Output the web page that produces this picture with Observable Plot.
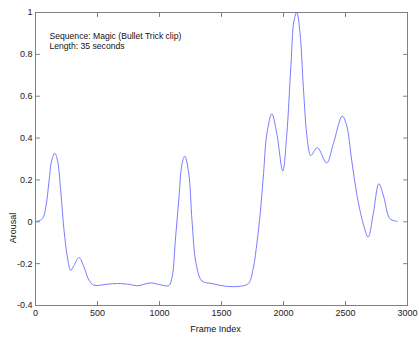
<!DOCTYPE html>
<html>
<head>
<meta charset="utf-8">
<script src="https://cdn.jsdelivr.net/npm/d3@7"></script>
<script src="https://cdn.jsdelivr.net/npm/@observablehq/plot@0.6"></script>
<style>
  html, body { margin: 0; padding: 0; background: #fff; }
  #chart { position: relative; width: 419px; height: 337px; }
</style>
</head>
<body>
<div id="chart"></div>
<script>
const frames = [0, 56, 83, 110, 128, 155, 177, 203, 230, 257, 284, 311, 351, 391, 431, 472, 579, 660, 766, 820, 927, 1000, 1075, 1102, 1128, 1155, 1182, 1204, 1236, 1262, 1295, 1343, 1424, 1531, 1651, 1718, 1758, 1785, 1812, 1839, 1866, 1906, 1946, 1994, 2027, 2059, 2085, 2107, 2134, 2160, 2193, 2220, 2273, 2348, 2402, 2474, 2509, 2550, 2590, 2643, 2683, 2724, 2769, 2809, 2858, 2917];
const arousal = [0.0, 0.015, 0.07, 0.198, 0.285, 0.328, 0.294, 0.15, -0.04, -0.168, -0.232, -0.208, -0.171, -0.216, -0.279, -0.303, -0.298, -0.295, -0.30, -0.306, -0.292, -0.300, -0.305, -0.263, -0.088, 0.103, 0.278, 0.314, 0.23, 0.007, -0.2, -0.283, -0.295, -0.308, -0.308, -0.295, -0.216, -0.104, 0.039, 0.23, 0.421, 0.516, 0.421, 0.243, 0.421, 0.739, 0.962, 1.0, 0.898, 0.643, 0.389, 0.317, 0.354, 0.281, 0.373, 0.505, 0.461, 0.294, 0.135, -0.009, -0.073, 0.039, 0.182, 0.118, 0.015, 0.002];
const xTicks = [0, 500, 1000, 1500, 2000, 2500, 3000];
const yTicks = [-0.4, -0.2, 0, 0.2, 0.4, 0.6, 0.8, 1];
const annotationLines = ["Sequence: Magic (Bullet Trick clip)", "Length: 35 seconds"];
const xLabel = "Frame Index";
const yLabel = "Arousal";

const data = frames.map((f, i) => ({frame: f, value: arousal[i]}));
const boxColor = "#808080";
const tickShape = {draw(ctx, l) { ctx.moveTo(0, 0); ctx.lineTo(0, -l); }};
const tickOpts = {length: 4, anchor: "start", shape: tickShape, stroke: boxColor, strokeWidth: 1};

const chart = Plot.plot({
  width: 419,
  height: 337,
  marginLeft: 35,
  marginRight: 12,
  marginTop: 12,
  marginBottom: 32,
  style: {fontFamily: "'Liberation Sans', Arial, sans-serif", fontSize: "9px", color: "#222", background: "#fff"},
  x: {domain: [0, 3000], ticks: xTicks},
  y: {domain: [-0.4, 1], ticks: yTicks},
  marks: [
    Plot.frame({stroke: boxColor}),
    Plot.line(data, {x: "frame", y: "value", curve: "catmull-rom", stroke: "#7b7bff", strokeWidth: 1}),
    Plot.axisX(xTicks, {anchor: "bottom", tickSize: 0, tickPadding: 4, label: null, tickFormat: d => String(d)}),
    Plot.axisY(yTicks, {anchor: "left", tickSize: 0, tickPadding: 3, label: null, tickFormat: d => String(d)}),
    Plot.vector(xTicks, {...tickOpts, x: d => d, frameAnchor: "bottom", rotate: 0}),
    Plot.vector(xTicks, {...tickOpts, x: d => d, frameAnchor: "top", rotate: 180}),
    Plot.vector(yTicks, {...tickOpts, y: d => d, frameAnchor: "left", rotate: 90}),
    Plot.vector(yTicks, {...tickOpts, y: d => d, frameAnchor: "right", rotate: -90}),
    Plot.text([annotationLines.join("\n")], {frameAnchor: "top-left", dx: 14, dy: 19, textAnchor: "start", lineAnchor: "top", lineHeight: 1.2, fill: "#111", fontSize: 8.6}),
    Plot.text([xLabel], {frameAnchor: "bottom", dx: -6, dy: 24, lineAnchor: "middle", fill: "#111", fontSize: 9}),
    Plot.text([yLabel], {x: 0, y: -0.03, dx: -22, rotate: -90, lineAnchor: "middle", textAnchor: "middle", fill: "#111", fontSize: 9})
  ]
});
document.getElementById("chart").appendChild(chart);
</script>
</body>
</html>
